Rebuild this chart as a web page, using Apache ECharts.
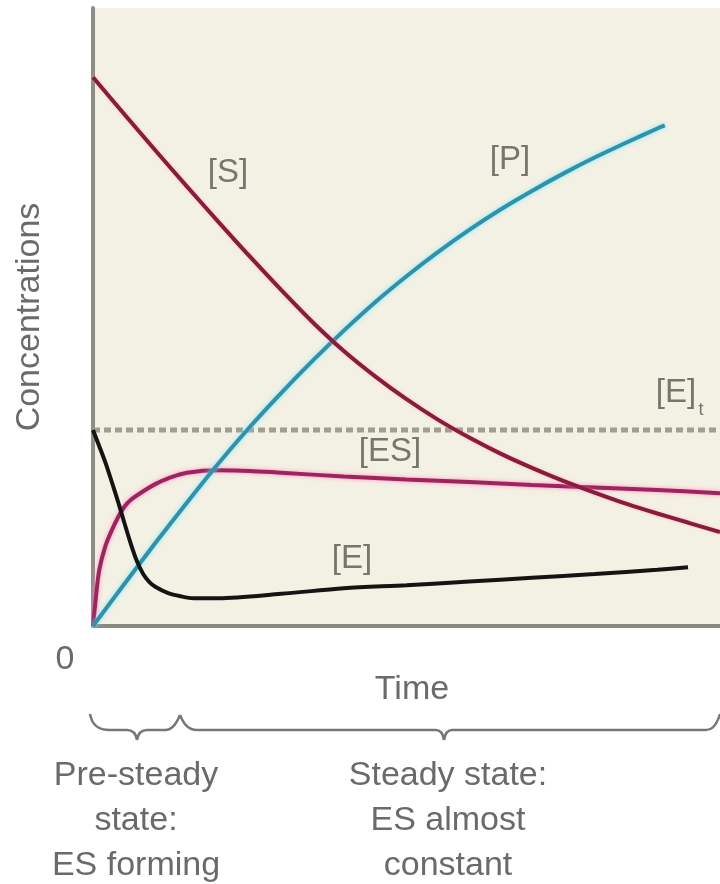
<!DOCTYPE html>
<html>
<head>
<meta charset="utf-8">
<script src="https://cdn.jsdelivr.net/npm/echarts@6/dist/echarts.min.js"></script>
<style>
html,body{margin:0;padding:0;background:#ffffff;}
#chart{width:720px;height:884px;}
</style>
</head>
<body>
<div id="chart"></div>
<script>
// ---- data (arbitrary units: time 0-100, concentration 0-100) ----
const sTime = [0,5,10,15,20,25,30,35,40,45,50,55,60,65,70,75,80,85,90,95,100];
const sValues = [88.8,82.8,76.9,71.1,65.4,59.8,54.4,49.2,44.5,40.4,36.7,33.4,30.5,27.9,25.6,23.5,21.6,19.8,18.2,16.7,15.2];

const pTime = [0,5,10,15,20,25,30,35,40,45,50,55,60,65,70,75,80,85,90,91.2];
const pValues = [0,6.8,13.5,20.0,26.3,32.2,37.7,42.9,47.8,52.4,56.6,60.5,64.1,67.4,70.4,73.2,75.8,78.2,80.5,81.0];

const esTime = [0,0.5,1,2,3,4,5,6,8,10,12,15,20,25,30,40,50,60,70,80,90,100];
const esValues = [0,5.0,9.1,13.0,15.5,17.6,19.3,20.4,21.8,23.0,23.9,24.8,25.2,25.1,24.8,24.2,23.7,23.3,22.8,22.4,22.0,21.5];

const eTime = [0,1,2,3,4,5,6,7,8,9,10,12,14,16,20,30,40,50,60,70,80,90,94.9];
const eValues = [31.7,29.1,26.4,23.3,20.1,16.7,13.4,10.5,8.4,7.1,6.3,5.3,4.8,4.5,4.5,5.2,6.1,6.6,7.2,7.8,8.4,9.1,9.5];

const eTotal = 31.7;            // [E]t level
const tMax = 100;
const curveLabels = ['[S]','[P]','[ES]','[E]'];
const bottomLeftLines = ['Pre-steady','state:','ES forming'];
const bottomMidLines = ['Steady state:','ES almost','constant'];

const pair = (xs, ys) => xs.map((x,i)=>[x, ys[i]]);

const FONT = '"Liberation Sans", Arial, Helvetica, sans-serif';
const labelColor = '#76766c';
const textColor = '#6a6a6a';
const braceStyle = {stroke: '#777777', lineWidth: 2.5, fill: null};

function txt(x, y, s, size, color, extra) {
  return Object.assign({
    type: 'text', x: x, y: y, z: 100,
    style: {
      text: s, fill: color, fontSize: size, fontFamily: FONT,
      align: 'center', verticalAlign: 'middle',
      textAlign: 'center', textVerticalAlign: 'middle'
    }
  }, extra || {});
}
function bez(x1, y1, c1x, c1y, c2x, c2y, x2, y2) {
  return {type: 'bezierCurve', z: 100, shape: {x1: x1, y1: y1, cpx1: c1x, cpy1: c1y, cpx2: c2x, cpy2: c2y, x2: x2, y2: y2}, style: braceStyle};
}
function seg(x1, y1, x2, y2) {
  return {type: 'line', z: 100, shape: {x1: x1, y1: y1, x2: x2, y2: y2}, style: braceStyle};
}

const braces = [
  bez(90,714, 92,725, 98,730, 110,730),
  seg(110,730, 127,730),
  bez(127,730, 133,730, 136,734, 137,740),
  bez(137,740, 138,734, 141,730, 147,730),
  seg(147,730, 165,730),
  bez(165,730, 173,730, 177,722, 180,715),
  bez(180,715, 183,722, 187,730, 197,730),
  seg(197,730, 436,730),
  bez(436,730, 441,730, 443,734, 444,740),
  bez(444,740, 445,734, 447,730, 452,730),
  seg(452,730, 706,730),
  bez(706,730, 713,730, 717,724, 720,714)
];

const chart = echarts.init(document.getElementById('chart'), null, {renderer: 'canvas'});

const option = {
  backgroundColor: '#ffffff',
  animation: false,
  grid: {
    left: 93, right: 0, top: 8, bottom: 258,
    show: true, backgroundColor: '#f3f1e3', borderWidth: 0
  },
  xAxis: {
    type: 'value', min: 0, max: tMax,
    axisLine: {show: true, onZero: false, lineStyle: {color: '#8a8982', width: 4}},
    axisTick: {show: false}, axisLabel: {show: false}, splitLine: {show: false}
  },
  yAxis: {
    type: 'value', min: 0, max: 100,
    axisLine: {show: true, onZero: false, lineStyle: {color: '#8f8e86', width: 4}},
    axisTick: {show: false}, axisLabel: {show: false}, splitLine: {show: false}
  },
  series: [
    {
      name: '[E]t', type: 'line', data: [[0, eTotal], [tMax, eTotal]],
      symbol: 'none', z: 1,
      lineStyle: {color: '#a19e8f', width: 5, type: [7, 4]}
    },
    {
      name: '[ES]', type: 'line', data: pair(esTime, esValues),
      symbol: 'none', smooth: 0.3, z: 2,
      lineStyle: {color: '#a0235e', width: 4, shadowColor: 'rgba(255,140,200,0.9)', shadowBlur: 4}
    },
    {
      name: '[P]', type: 'line', data: pair(pTime, pValues),
      symbol: 'none', smooth: 0.3, z: 3,
      lineStyle: {color: '#2b93ae', width: 4, shadowColor: 'rgba(120,230,255,0.9)', shadowBlur: 4}
    },
    {
      name: '[S]', type: 'line', data: pair(sTime, sValues),
      symbol: 'none', smooth: 0.3, z: 4,
      lineStyle: {color: '#8c1a3c', width: 4, shadowColor: 'rgba(255,160,180,0.6)', shadowBlur: 3}
    },
    {
      name: '[E]', type: 'line', data: pair(eTime, eValues),
      symbol: 'none', smooth: 0.3, z: 5,
      lineStyle: {color: '#141414', width: 4}
    }
  ],
  graphic: [
    txt(228, 173, curveLabels[0], 33, labelColor),
    txt(510, 160, curveLabels[1], 33, labelColor),
    txt(390, 452, curveLabels[2], 33, labelColor),
    txt(352, 559, curveLabels[3], 33, labelColor),
    txt(676, 393, '[E]', 33, labelColor),
    txt(701, 410, 't', 18, labelColor),
    txt(30, 317, 'Concentrations', 34, textColor, {rotation: Math.PI / 2}),
    txt(65, 660, '0', 34, textColor),
    txt(412, 690, 'Time', 34, textColor),
    {
      type: 'text', x: 136, y: 821, z: 100,
      style: {text: bottomLeftLines.join('\n'), fill: textColor, fontSize: 34, fontFamily: FONT,
        lineHeight: 45, align: 'center', verticalAlign: 'middle', textAlign: 'center', textVerticalAlign: 'middle'}
    },
    {
      type: 'text', x: 448, y: 821, z: 100,
      style: {text: bottomMidLines.join('\n'), fill: textColor, fontSize: 34, fontFamily: FONT,
        lineHeight: 45, align: 'center', verticalAlign: 'middle', textAlign: 'center', textVerticalAlign: 'middle'}
    }
  ].concat(braces)
};

chart.setOption(option);
</script>
</body>
</html>
